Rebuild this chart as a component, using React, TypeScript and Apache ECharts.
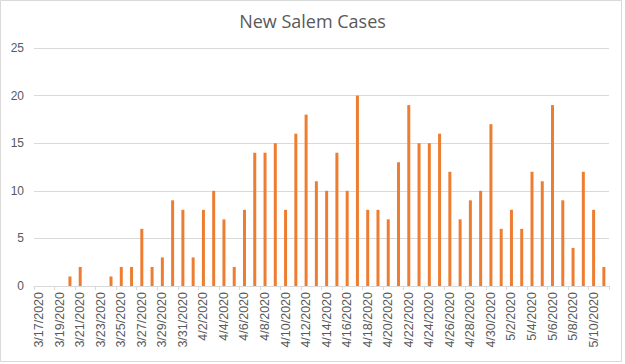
import React, { useEffect, useRef } from "react";
import * as echarts from "echarts";

const dates: string[] = [
  "3/17/2020","3/18/2020","3/19/2020","3/20/2020","3/21/2020","3/22/2020","3/23/2020","3/24/2020",
  "3/25/2020","3/26/2020","3/27/2020","3/28/2020","3/29/2020","3/30/2020","3/31/2020",
  "4/1/2020","4/2/2020","4/3/2020","4/4/2020","4/5/2020","4/6/2020","4/7/2020","4/8/2020",
  "4/9/2020","4/10/2020","4/11/2020","4/12/2020","4/13/2020","4/14/2020","4/15/2020","4/16/2020",
  "4/17/2020","4/18/2020","4/19/2020","4/20/2020","4/21/2020","4/22/2020","4/23/2020","4/24/2020",
  "4/25/2020","4/26/2020","4/27/2020","4/28/2020","4/29/2020","4/30/2020",
  "5/1/2020","5/2/2020","5/3/2020","5/4/2020","5/5/2020","5/6/2020","5/7/2020","5/8/2020",
  "5/9/2020","5/10/2020","5/11/2020",
];

const cases: number[] = [
  0, 0, 0, 1, 2, 0, 0, 1,
  2, 2, 6, 2, 3, 9, 8,
  3, 8, 10, 7, 2, 8, 14, 14,
  15, 8, 16, 18, 11, 10, 14, 10,
  20, 8, 8, 7, 13, 19, 15, 15,
  16, 12, 7, 9, 10, 17,
  6, 8, 6, 12, 11, 19, 9, 4,
  12, 8, 2,
];

const title = "New Salem Cases";

export default function App() {
  const ref = useRef<HTMLDivElement>(null);
  useEffect(() => {
    if (!ref.current) return;
    const chart = echarts.init(ref.current, null, { renderer: "svg" });
    chart.setOption({
      animation: false,
      backgroundColor: "#ffffff",
      textStyle: { fontFamily: "Liberation Sans, Arial, sans-serif" },
      title: {
        text: title,
        left: "center",
        top: 7,
        textStyle: { fontSize: 18, fontWeight: "normal", color: "#595959", fontFamily: "Open Sans, sans-serif" },
      },
      graphic: [
        {
          type: "rect",
          shape: { x: 0.5, y: 0.5, width: 621, height: 361 },
          style: { fill: "none", stroke: "#D9D9D9", lineWidth: 1 },
          silent: true,
        },
      ],
      grid: { left: 34, right: 16, top: 48, bottom: 78, containLabel: false },
      xAxis: {
        type: "category",
        data: dates,
        axisLine: { lineStyle: { color: "#D9D9D9" } },
        axisTick: { show: true, interval: 1, length: 4, lineStyle: { color: "#D9D9D9" } },
        axisLabel: { interval: 1, rotate: 90, fontSize: 12.5, color: "#595959", margin: 6 },
      },
      yAxis: {
        type: "value",
        min: 0,
        max: 25,
        interval: 5,
        axisLine: { show: false },
        axisTick: { show: false },
        splitLine: { lineStyle: { color: "#D9D9D9" } },
        axisLabel: { fontSize: 12, color: "#595959", margin: 10 },
      },
      series: [
        {
          type: "bar",
          data: cases,
          barWidth: 3,
          itemStyle: { color: "#ED7D31" },
        },
      ],
    });
    return () => chart.dispose();
  }, []);
  return (
    <div
      ref={ref}
      style={{ position: "fixed", left: 0, top: 0, width: 625, height: 364 }}
    />
  );
}
